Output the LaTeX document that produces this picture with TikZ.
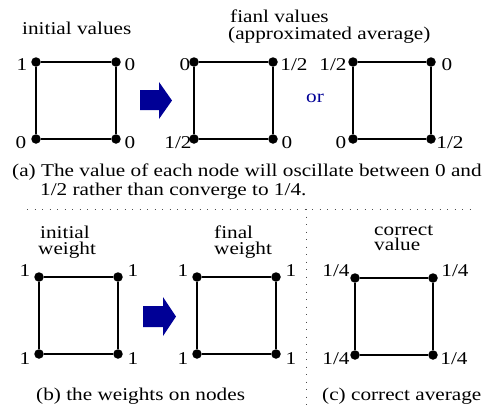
\documentclass[tikz,border=0pt]{standalone}
\usepackage{fontspec}
\setmainfont{Liberation Serif}[FakeStretch=1.18]
\definecolor{arrowblue}{RGB}{0,0,150}
\begin{document}
\begin{tikzpicture}[x=1pt,y=-1pt,
  dot/.style={circle,fill=black,inner sep=0pt,minimum size=9.5pt},
  edge/.style={draw=black,line width=1.2pt},
  txt/.style={font=\fontsize{18}{18}\selectfont,inner sep=0pt},
  lbl/.style={txt,anchor=base},
  bigarrow/.style={fill=arrowblue,draw=none},
  sep/.style={draw=black!70,line width=1pt,dash pattern=on 1pt off 6.5pt}
]
\useasboundingbox (0,0) rectangle (491,407);

% ---------- (a) initial values ----------
\node[txt,anchor=base west] (t1) at (22,34) {initial values};
\node[dot] (a1) at (36,62) {};
\node[dot] (a2) at (116,62) {};
\node[dot] (a3) at (36,139) {};
\node[dot] (a4) at (116,139) {};
\draw[edge] (a1) -- (a2) -- (a4) -- (a3) -- (a1);
\node[lbl] (la1) at (22,70) {1};
\node[lbl] (la2) at (130,70) {0};
\node[lbl] (la3) at (21,148) {0};
\node[lbl] (la4) at (130,148) {0};

\fill[bigarrow] (140,90) -- (159,90) -- (159,82) -- (172,100.5) -- (159,119) -- (159,110) -- (140,110) -- cycle;

% ---------- (a) final values ----------
\node[txt,anchor=base west] (t2) at (230,22) {fianl values};
\node[txt,anchor=base west] (t3) at (228,39) {(approximated average)};
\node[dot] (b1) at (194,62) {};
\node[dot] (b2) at (273,62) {};
\node[dot] (b3) at (194,139) {};
\node[dot] (b4) at (273,139) {};
\draw[edge] (b1) -- (b2) -- (b4) -- (b3) -- (b1);
\node[lbl] (lb1) at (185,70) {0};
\node[lbl] (lb2) at (294,70) {1/2};
\node[lbl] (lb3) at (178,148) {1/2};
\node[lbl] (lb4) at (287,148) {0};

\node[lbl,text=arrowblue] (or) at (315,102) {or};

\node[dot] (c1) at (353,62) {};
\node[dot] (c2) at (431,62) {};
\node[dot] (c3) at (353,139) {};
\node[dot] (c4) at (431,139) {};
\draw[edge] (c1) -- (c2) -- (c4) -- (c3) -- (c1);
\node[lbl] (lc1) at (333,70) {1/2};
\node[lbl] (lc2) at (447,70) {0};
\node[lbl] (lc3) at (341,148) {0};
\node[lbl] (lc4) at (450,148) {1/2};

\node[txt,anchor=base west] (capa1) at (12,176) {(a) The value of each node will oscillate between 0 and};
\node[txt,anchor=base west] (capa2) at (40,195) {1/2 rather than converge to 1/4.};

% ---------- separators ----------
\coordinate (h1) at (27,209);
\coordinate (h2) at (473,209);
\coordinate (v1) at (306,209);
\coordinate (v2) at (306,407);
\draw[sep] (h1) -- (h2);
\draw[sep] (v1) -- (v2);

% ---------- (b) weights ----------
\node[txt,anchor=base west] (w1) at (40,238) {initial};
\node[txt,anchor=base west] (w2) at (38,254) {weight};
\node[dot] (d1) at (39,277) {};
\node[dot] (d2) at (118,277) {};
\node[dot] (d3) at (39,354) {};
\node[dot] (d4) at (118,354) {};
\draw[edge] (d1) -- (d2) -- (d4) -- (d3) -- (d1);
\node[lbl] (ld1) at (25,276) {1};
\node[lbl] (ld2) at (133,276) {1};
\node[lbl] (ld3) at (25,364) {1};
\node[lbl] (ld4) at (133,364) {1};

\fill[bigarrow] (143,306) -- (163,306) -- (163,297) -- (176,316.5) -- (163,336) -- (163,327) -- (143,327) -- cycle;

\node[txt,anchor=base west] (w3) at (214,238) {final};
\node[txt,anchor=base west] (w4) at (214,254) {weight};
\node[dot] (e1) at (197,277) {};
\node[dot] (e2) at (276,277) {};
\node[dot] (e3) at (197,354) {};
\node[dot] (e4) at (276,354) {};
\draw[edge] (e1) -- (e2) -- (e4) -- (e3) -- (e1);
\node[lbl] (le1) at (183,276) {1};
\node[lbl] (le2) at (291,276) {1};
\node[lbl] (le3) at (183,364) {1};
\node[lbl] (le4) at (291,364) {1};

\node[txt,anchor=base west] (capb) at (36,400) {(b) the weights on nodes};

% ---------- (c) correct ----------
\node[txt,anchor=base west] (v3) at (374,235) {correct};
\node[txt,anchor=base west] (v4) at (374,250) {value};
\node[dot] (f1) at (355,278) {};
\node[dot] (f2) at (433,278) {};
\node[dot] (f3) at (355,355) {};
\node[dot] (f4) at (433,355) {};
\draw[edge] (f1) -- (f2) -- (f4) -- (f3) -- (f1);
\node[lbl] (lf1) at (336,276) {1/4};
\node[lbl] (lf2) at (455,276) {1/4};
\node[lbl] (lf3) at (336,364) {1/4};
\node[lbl] (lf4) at (454,364) {1/4};

\node[txt,anchor=base west] (capc) at (322,400) {(c) correct average};
\end{tikzpicture}
\end{document}
